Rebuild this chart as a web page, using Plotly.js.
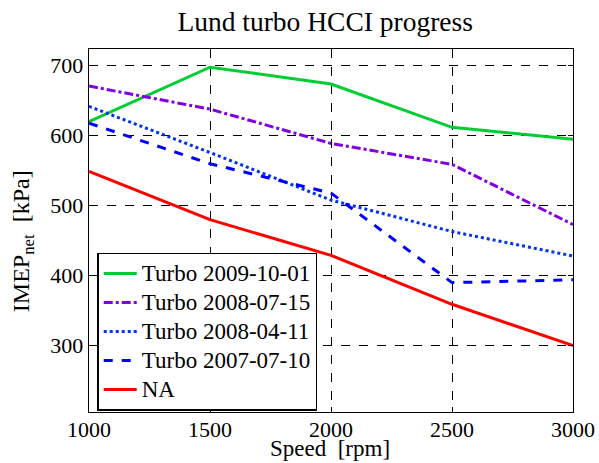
<!DOCTYPE html>
<html>
<head>
<meta charset="utf-8">
<script src="https://cdn.plot.ly/plotly-3.0.1.min.js"></script>
<style>html,body{margin:0;padding:0;background:#fff}#chart{width:599px;height:463px}</style>
</head>
<body>
<div id="chart"></div>
<script>
var speed = [1000, 1500, 2000, 2500, 3000];
var seriesNames = ["Turbo 2009-10-01", "Turbo 2008-07-15", "Turbo 2008-04-11", "Turbo 2007-07-10", "NA"];
var turbo20091001 = [620, 698, 674, 612, 595];
var turbo20080715 = [671, 638, 589, 559, 473];
var turbo20080411 = [642, 576, 508, 463, 428];
var turbo20070710 = [618, 560, 518, 390, 394];
var na = [549, 480, 429, 359, 300];
var xTicks = [1000, 1500, 2000, 2500, 3000];
var yTicks = [300, 400, 500, 600, 700];

var values = [turbo20091001, turbo20080715, turbo20080411, turbo20070710, na];
var colors = ["#00cc33", "#8000e0", "#0033ee", "#0000ff", "#ff0000"];
var dashes = ["solid", "dashdot", "dot", "dash", "solid"];

var traces = values.map(function(v, i){
  return {x: speed, y: v, name: "<span style='font-size:23px'>" + seriesNames[i] + "</span>",
    type: "scatter", mode: "lines",
    line: {color: colors[i], width: 3, dash: dashes[i]}};
});

var F = "Liberation Serif";
function mkAxis(extra){
  var a = {
    showline: true, linecolor: "#000", linewidth: 1.3, mirror: "ticks",
    ticks: "inside", ticklen: 5, tickcolor: "#000", tickwidth: 1,
    showgrid: true, gridcolor: "#000", griddash: "dash", gridwidth: 1,
    zeroline: false, tickfont: {family: F, size: 22, color: "#000"}
  };
  for (var k in extra) a[k] = extra[k];
  return a;
}
var layout = {
  width: 599, height: 463,
  font: {family: F, size: 20, color: "#000"},
  margin: {l: 89, r: 26, t: 49, b: 51},
  paper_bgcolor: "#fff", plot_bgcolor: "#fff",
  title: {text: "Lund turbo HCCI progress", font: {family: F, size: 27.5, color: "#000"},
    xref: "paper", x: 0.488, xanchor: "center", yref: "container", y: 0.953, yanchor: "middle"},
  xaxis: mkAxis({range: [1000, 3000], tickvals: xTicks, ticktext: xTicks.map(String), ticklabelstandoff: -3}),
  yaxis: mkAxis({range: [205, 724], tickvals: yTicks, ticktext: yTicks.map(String)}),
  annotations: [
    {text: "Speed  [rpm]", xref: "paper", yref: "paper", x: 0.497, y: -0.1405, xanchor: "center", yanchor: "bottom",
      showarrow: false, font: {family: F, size: 23, color: "#000"}},
    {text: "IMEP<sub>net</sub>  [kPa]", xref: "paper", yref: "paper", x: -0.136, y: 0.471, xanchor: "center", yanchor: "middle",
      textangle: -90, showarrow: false, font: {family: F, size: 24, color: "#000"}}
  ],
  showlegend: true,
  legend: {x: 0.017, y: 0.004, xanchor: "left", yanchor: "bottom", bgcolor: "#fff", bordercolor: "#000", borderwidth: 1.5,
    font: {family: F, size: 20, color: "#000"}, itemwidth: 33, tracegroupgap: 0}
};
Plotly.newPlot("chart", traces, layout, {displayModeBar: false, staticPlot: true});
</script>
</body>
</html>
